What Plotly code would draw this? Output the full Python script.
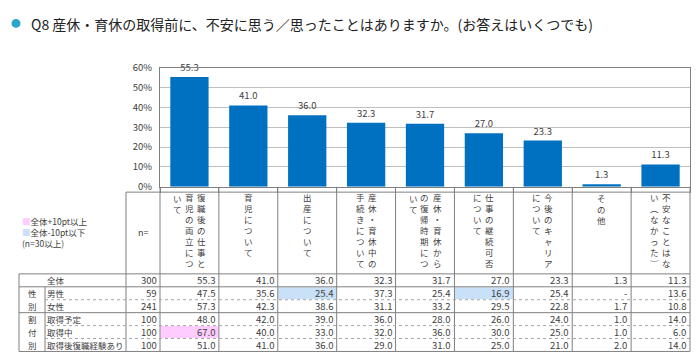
import plotly.graph_objects as go

W, H = 700, 364
FONT = "Noto Sans CJK JP"

title_text = "Q8 産休・育休の取得前に、不安に思う／思ったことはありますか。(お答えはいくつでも)"

categories = [
    "復職後の仕事と育児の両立について",
    "育児について",
    "出産について",
    "産休・育休中の手続きについて",
    "産休・育休からの復帰時期について",
    "仕事の継続可否について",
    "今後のキャリアについて",
    "その他",
    "不安なことはない（なかった）",
]

# vertical header text, columns read right-to-left
header_columns = [
    ["復職後の仕事と", "育児の両立につ", "いて"],
    ["育児について"],
    ["出産について"],
    ["産休・育休中の", "手続きについて"],
    ["産休・育休から", "の復帰時期につ", "いて"],
    ["仕事の継続可否", "について"],
    ["今後のキャリア", "について"],
    ["その他"],
    ["不安なことはな", "い︵なかった︶"],
]

total_values = [55.3, 41.0, 36.0, 32.3, 31.7, 27.0, 23.3, 1.3, 11.3]

row_labels = ["全体", "男性", "女性", "取得予定", "取得中", "取得後復職経験あり"]
row_groups = [None, "性別", "性別", "割付別", "割付別", "割付別"]
row_n = [300, 59, 241, 100, 100, 100]
row_all = [55.3, 41.0, 36.0, 32.3, 31.7, 27.0, 23.3, 1.3, 11.3]
row_male = [47.5, 35.6, 25.4, 37.3, 25.4, 16.9, 25.4, None, 13.6]
row_female = [57.3, 42.3, 38.6, 31.1, 33.2, 29.5, 22.8, 1.7, 10.8]
row_planned = [48.0, 42.0, 39.0, 36.0, 28.0, 26.0, 24.0, 1.0, 14.0]
row_during = [67.0, 40.0, 33.0, 32.0, 36.0, 30.0, 25.0, 1.0, 6.0]
row_after = [51.0, 41.0, 36.0, 29.0, 31.0, 25.0, 21.0, 2.0, 14.0]
table_rows = [row_all, row_male, row_female, row_planned, row_during, row_after]

yticks = [0, 10, 20, 30, 40, 50, 60]
legend_lines = ["全体+10pt以上", "全体-10pt以下", "(n=30以上)"]

PINK = "#FFCCFF"
LBLUE = "#C9E1F8"
BAR = "#0070C0"
TXT = "#404040"
LINE = "#808080"
DOT = "#A6A6A6"

# geometry (pixels)
PX0, PX1 = 160, 690
PY_TOP, PY_BOT = 62, 186


def px(x):
    return x / W


def py(y):
    return 1 - y / H


ncat = len(categories)
cw = (PX1 - PX0) / ncat
col_center = [PX0 + (i + 0.5) * cw for i in range(ncat)]
col_bounds = [PX0 + i * cw for i in range(ncat + 1)]

fig = go.Figure()
fig.add_trace(go.Bar(
    x=categories, y=total_values,
    marker=dict(color=BAR, line=dict(width=0)),
    text=[f"{v:.1f}" for v in total_values],
    textposition="outside",
    textfont=dict(size=9.5, color=TXT, family=FONT),
    cliponaxis=False,
    hoverinfo="skip",
))

shapes = []
annotations = []


def ann(text, x, y, size=9, xanchor="center", align="center", color=TXT):
    annotations.append(dict(text=text, x=px(x), y=py(y), xref="paper", yref="paper",
                            xanchor=xanchor, yanchor="middle", showarrow=False, align=align,
                            borderpad=0, font=dict(size=size, color=color, family=FONT)))


# title
shapes.append(dict(type="circle", xref="paper", yref="paper",
                   x0=px(11.5), x1=px(20.5), y0=py(20.5), y1=py(11.5),
                   fillcolor="#29A8CC", line=dict(width=0)))
ann(title_text, 30, 16.5, size=14, xanchor="left", color="#222222")

# table geometry
HDR_TOP = 191.5
HDR_BOT = 276.5
ROW_H = 13.45
TBL_L = 19
GRP_R = 45
LBL_R = 126
nrows = len(table_rows)
row_top = [HDR_BOT + i * ROW_H for i in range(nrows + 1)]


def hline(y, x0, x1, dash=None, color=LINE):
    ln = dict(color=color, width=1)
    if dash:
        ln["dash"] = dash
    shapes.append(dict(type="line", xref="paper", yref="paper",
                       x0=px(x0), x1=px(x1), y0=py(y), y1=py(y), line=ln))


def vline(x, y0, y1, color=LINE):
    shapes.append(dict(type="line", xref="paper", yref="paper",
                       x0=px(x), x1=px(x), y0=py(y0), y1=py(y1),
                       line=dict(color=color, width=1)))


# highlight cells (全体 ±10pt rule, n>=30)
for r in range(1, nrows):
    if row_n[r] < 30:
        continue
    for c in range(ncat):
        v = table_rows[r][c]
        if v is None:
            continue
        d = v - table_rows[0][c]
        color = PINK if d >= 10 - 1e-9 else (LBLUE if d <= -10 + 1e-9 else None)
        if color:
            shapes.append(dict(type="rect", xref="paper", yref="paper",
                               x0=px(col_bounds[c] + 0.5), x1=px(col_bounds[c + 1] - 0.5),
                               y0=py(row_top[r + 1] - 0.5), y1=py(row_top[r] + 0.5),
                               fillcolor=color, line=dict(width=0), layer="below"))

# header / table lines
hline(HDR_TOP, LBL_R, PX1)
hline(HDR_BOT, TBL_L, PX1)
for b in col_bounds:
    vline(b, PY_BOT, row_top[-1])
vline(LBL_R, HDR_TOP, row_top[-1])
vline(TBL_L, HDR_BOT, row_top[-1])
vline(GRP_R, row_top[1], row_top[-1])

for r in range(1, nrows + 1):
    y = row_top[r]
    if r == nrows or r == 1 or row_groups[r] != row_groups[r - 1]:
        hline(y, TBL_L, PX1)
    else:
        hline(y, GRP_R, PX1, dash="dot", color=DOT)

# header vertical text (one annotation per text column)
HDR_FS = 8.5
CH_PITCH = HDR_FS * 1.3
CH_Y0 = 197.5
COL_SP = 12
for i, cols in enumerate(header_columns):
    ncols = len(cols)
    for j, s in enumerate(cols):
        x = col_center[i] + (ncols - 1) / 2 * COL_SP - j * COL_SP
        yc = CH_Y0 + (len(s) - 1) * CH_PITCH / 2
        ann("<br>".join(s), x, yc, size=HDR_FS)

ann("n=", (LBL_R + PX0) / 2, 233, size=9)

# legend text at left
leg_colors = [PINK, LBLUE, None]
leg_parts = []
for t, c in zip(legend_lines, leg_colors):
    if c:
        leg_parts.append(f"<span style='color:{c}'>■</span>{t}")
    else:
        leg_parts.append(t)
ann("<br>".join(leg_parts), 21, 233, size=8.5, xanchor="left", align="left")

# table rows
for r in range(nrows):
    yc = (row_top[r] + row_top[r + 1]) / 2
    ann(row_labels[r], 46, yc, size=8.5, xanchor="left")
    ann(str(row_n[r]), PX0 - 2, yc, size=9.5, xanchor="right")
    for c in range(ncat):
        v = table_rows[r][c]
        t = "-" if v is None else f"{v:.1f}"
        ann(t, col_bounds[c + 1] - 3, yc, size=9.5, xanchor="right")

# group labels (vertical, one char per row)
groups = []
for r, g in enumerate(row_groups):
    if g is None:
        continue
    if not groups or groups[-1][0] != g:
        groups.append([g, []])
    groups[-1][1].append(r)
for g, rows in groups:
    for k, ch in enumerate(g):
        r = rows[k] if k < len(rows) else rows[-1]
        yc = (row_top[r] + row_top[r + 1]) / 2
        ann(ch, (TBL_L + GRP_R) / 2, yc, size=8.5)

fig.update_layout(
    width=W, height=H,
    margin=dict(l=0, r=0, t=0, b=0),
    paper_bgcolor="white", plot_bgcolor="white",
    showlegend=False,
    bargap=0.35,
    hovermode=False,
    font=dict(family=FONT, size=9, color=TXT),
    xaxis=dict(domain=[px(PX0), px(PX1)], showticklabels=False, showgrid=False,
               showline=True, linecolor=LINE, linewidth=1, mirror=True,
               ticks="outside", ticklen=5, tickcolor=LINE, tickson="boundaries"),
    yaxis=dict(domain=[py(PY_BOT), py(PY_TOP)], range=[0, 60], tickvals=yticks,
               ticktext=[f"{v}%" for v in yticks], showgrid=True, gridcolor="#BFBFBF",
               showline=True, linecolor=LINE, linewidth=1, mirror=True, zeroline=False,
               tickfont=dict(size=9.5, color=TXT, family=FONT),
               ticks="outside", ticklen=5, tickcolor="rgba(0,0,0,0)"),
    shapes=shapes,
    annotations=annotations,
)

fig.write_html("out.html",
               config={"displayModeBar": False, "staticPlot": True},
               post_script="document.body.style.margin='0';document.body.style.overflow='hidden';")
